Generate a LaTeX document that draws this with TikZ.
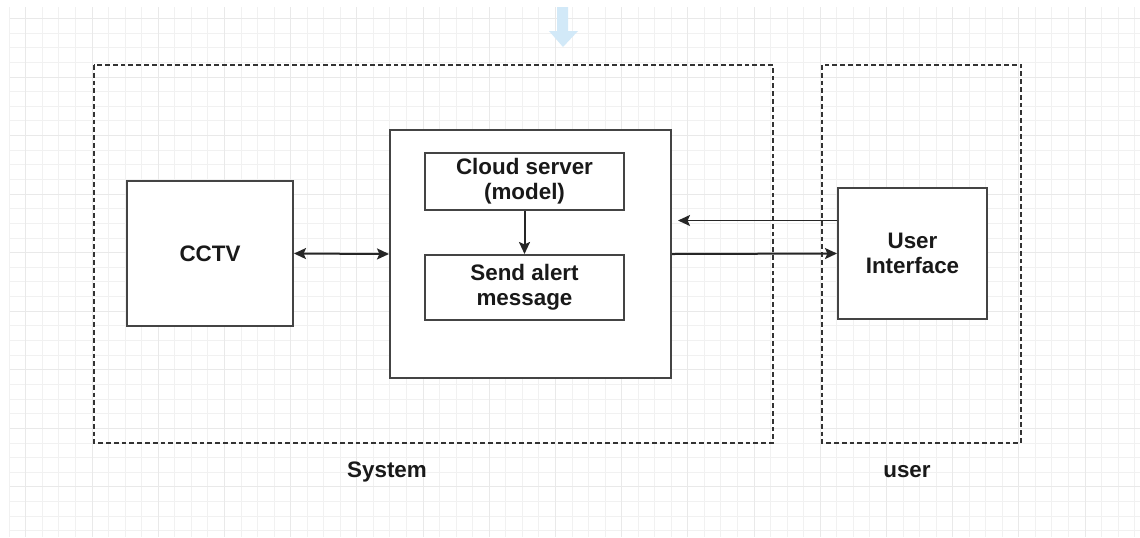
\documentclass[tikz,border=0pt]{standalone}
\usepackage{fontspec}
\setmainfont{Liberation Sans}
\usetikzlibrary{arrows.meta}

\definecolor{gridlight}{RGB}{241,241,241}
\definecolor{griddark}{RGB}{233,233,233}
\definecolor{hintblue}{RGB}{210,233,248}
\definecolor{edgegray}{RGB}{68,68,68}

\begin{document}
\begin{tikzpicture}[x=0.5pt, y=-0.5pt,
    gridminor/.style={draw=gridlight, line width=0.5pt},
    gridmajor/.style={draw=griddark, line width=0.5pt},
    region/.style={draw=black!80, line width=1.2pt, dash pattern=on 2.4pt off 1.5pt},
    block/.style={draw=edgegray, line width=1pt, fill=white, align=center, inner sep=0pt,
        text=black!90, font=\bfseries\fontsize{11.2}{12.5}\selectfont},
    caption/.style={text=black!90, font=\bfseries\fontsize{11.2}{12.5}\selectfont},
    flow/.style={draw=black!85, line width=1pt, -{Stealth[length=6pt,width=5.5pt,inset=1.2pt]}}]
    \useasboundingbox (0,0) rectangle (1140,537);
    \fill[white] (0,0) rectangle (1140,537);
    % Grid
    \foreach \i in {0,...,68}
        \draw[gridminor] ({9.3+16.55*\i},7) -- ({9.3+16.55*\i},537);
    \foreach \k in {0,...,35}
        \draw[gridminor] (10,{18.44+14.64*\k}) -- (1140,{18.44+14.64*\k});
    \foreach \j in {-1,...,15}
        \draw[gridmajor] ({92+66.2*\j},7) -- ({92+66.2*\j},537);
    \foreach \j in {-1,...,7}
        \draw[gridmajor] (10,{77+58.56*\j}) -- (1140,{77+58.56*\j});
    % Hint arrow
    \fill[hintblue] (557,7) -- (568,7) -- (568,31) -- (578,31) -- (563,47)
        -- (549,31) -- (557,31) -- cycle;
    % Boundaries
    \draw[region] (94,65) rectangle (773,443);
    \draw[region] (822,65) rectangle (1021,443);
    \node[caption] (system) at (387,472) {System};
    \node[caption] (user) at (907,472) {user};
    % Blocks
    \node[block, minimum width=83pt, minimum height=72.5pt] (cctv) at (210,253.5) {CCTV};
    \node[block, minimum width=140.5pt, minimum height=124pt] (hub) at (530.5,254) {};
    \node[block, minimum width=99.5pt, minimum height=28.5pt] (cloud) at (524.5,181.5) {Cloud server\\(model)};
    \node[block, minimum width=99.5pt, minimum height=32.5pt] (alert) at (524.5,287.5) {Send alert\\message};
    \node[block, minimum width=74.5pt, minimum height=65.5pt] (ui) at (912.5,253.5) {User\\Interface};
    % Connectors
    \draw[flow, {Stealth[length=6pt,width=5.5pt,inset=1.2pt]}-{Stealth[length=6pt,width=5.5pt,inset=1.2pt]}]
        (cctv.east) -- (hub.west);
    \draw[flow] (cloud) -- (alert);
    \draw[flow, line width=0.75pt, shorten >=3pt] ([yshift=16.5pt]ui.west) -- ([yshift=16.5pt]ui.west -| hub.east);
    \draw[flow] (hub.east) -- (ui.west);
\end{tikzpicture}
\end{document}
